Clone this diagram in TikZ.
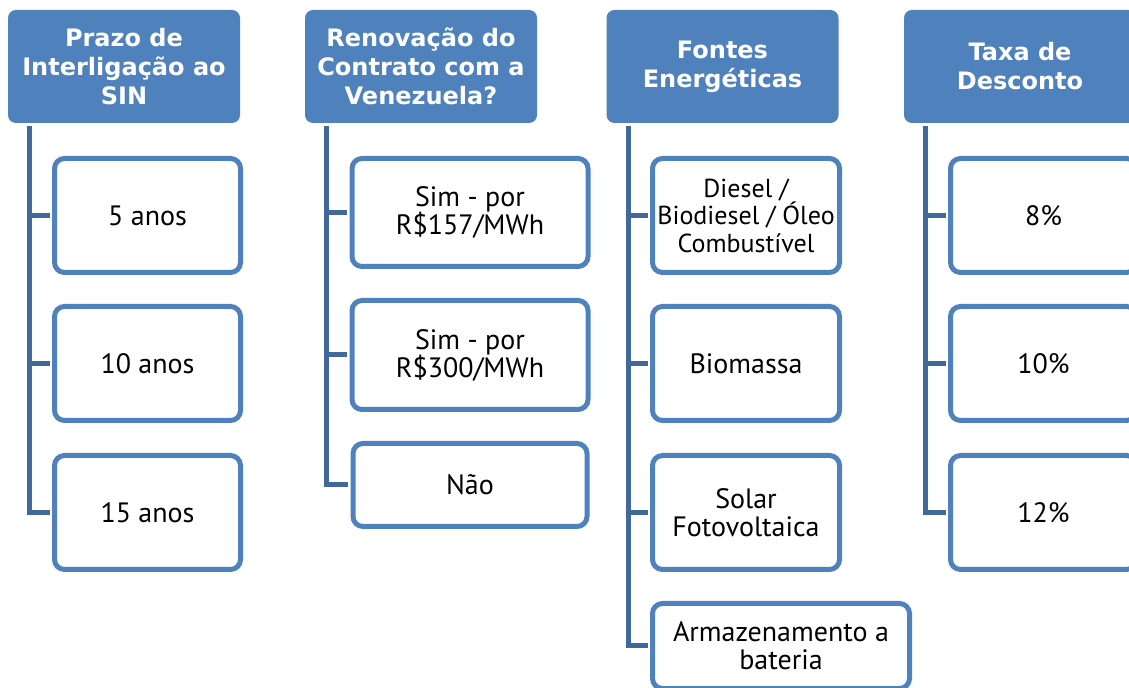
\documentclass[tikz,border=0pt]{standalone}
\usepackage{fontspec}
\setmainfont{DejaVu Sans}
\newfontfamily\itemfont{PT Sans}
\usepackage{tikz}
\usetikzlibrary{positioning}
\definecolor{hdrblue}{RGB}{79,129,189}
\definecolor{trunkblue}{RGB}{64,104,154}
\tikzstyle{header}=[rectangle, rounded corners=4pt, fill=hdrblue,
                    text=white, align=center, inner sep=0pt,
                    minimum width=116pt, minimum height=56.5pt,
                    font=\bfseries\fontsize{12}{14.5}\selectfont]
\tikzstyle{item}  =[rectangle, rounded corners=5pt, draw=hdrblue,
                    line width=2.5pt, fill=white, align=center,
                    inner sep=0pt, minimum width=93pt, minimum height=57pt,
                    font=\itemfont\fontsize{14}{14}\selectfont]
\tikzstyle{branch}=[draw=trunkblue, line width=2.5pt, shorten >=1.25pt]

\begin{document}
\begin{tikzpicture}[x=0.5pt, y=-0.5pt, on grid]
            \useasboundingbox (0,0) rectangle (1129,688);
            \clip (0,0) rectangle (1129,688);

            % prazo
            \node (prazo) [header] at (124,66.5) {Prazo de\\Interligação ao\\SIN};
            \node (anos5) [item] at (147.5,215.5) {5 anos};
            \node (anos10) [item, below=74pt of anos5] {10 anos};
            \node (anos15) [item, below=74.5pt of anos10] {15 anos};
            \coordinate (tprazo) at (29.5,126);
            \draw[branch] (tprazo) |- (anos15.west);
            \draw[branch] (tprazo |- anos5.west) -- (anos5.west);
            \draw[branch] (tprazo |- anos10.west) -- (anos10.west);

            % contrato
            \node (renov) [header] at (421,66.5) {Renovação do\\Contrato com a\\Venezuela?};
            \node (sim157) [item, minimum width=118pt, minimum height=54pt]
                at (470,212.5) {Sim - por\\R\$157/MWh};
            \node (sim300) [item, minimum width=118pt, minimum height=54.5pt,
                below=71.25pt of sim157] {Sim - por\\R\$300/MWh};
            \node (nao) [item, minimum width=117pt, minimum height=41.5pt,
                below=65pt of sim300] {Não};
            \coordinate (trenov) at (326,126);
            \draw[branch] (trenov) |- (nao.west);
            \draw[branch] (trenov |- sim157.west) -- (sim157.west);
            \draw[branch] (trenov |- sim300.west) -- (sim300.west);

            % fontes
            \node (fontes) [header] at (722.5,66.5) {Fontes\\Energéticas};
            \node (diesel) [item, minimum width=93.5pt,
                font=\itemfont\fontsize{13}{13.75}\selectfont] at (746,215.5)
                {Diesel /\\Biodiesel / Óleo\\Combustível};
            \node (biomassa) [item, minimum width=93.5pt, below=74pt of diesel] {Biomassa};
            \node (solar) [item, minimum width=93.5pt, below=74.5pt of biomassa]
                {Solar\\Fotovoltaica};
            \node (bateria) [item, minimum width=128.5pt, minimum height=42.5pt]
                at (781,646) {Armazenamento a\\bateria};
            \coordinate (tfontes) at (628,126);
            \draw[branch] (tfontes) |- (bateria.west);
            \draw[branch] (tfontes |- diesel.west) -- (diesel.west);
            \draw[branch] (tfontes |- biomassa.west) -- (biomassa.west);
            \draw[branch] (tfontes |- solar.west) -- (solar.west);

            % taxa
            \node (taxa) [header] at (1020,66.5) {Taxa de\\Desconto};
            \node (tx8) [item] at (1043.5,215.5) {8\%};
            \node (tx10) [item, below=74pt of tx8] {10\%};
            \node (tx12) [item, below=74.5pt of tx10] {12\%};
            \coordinate (ttaxa) at (925,126);
            \draw[branch] (ttaxa) |- (tx12.west);
            \draw[branch] (ttaxa |- tx8.west) -- (tx8.west);
            \draw[branch] (ttaxa |- tx10.west) -- (tx10.west);
        \end{tikzpicture}
\end{document}
